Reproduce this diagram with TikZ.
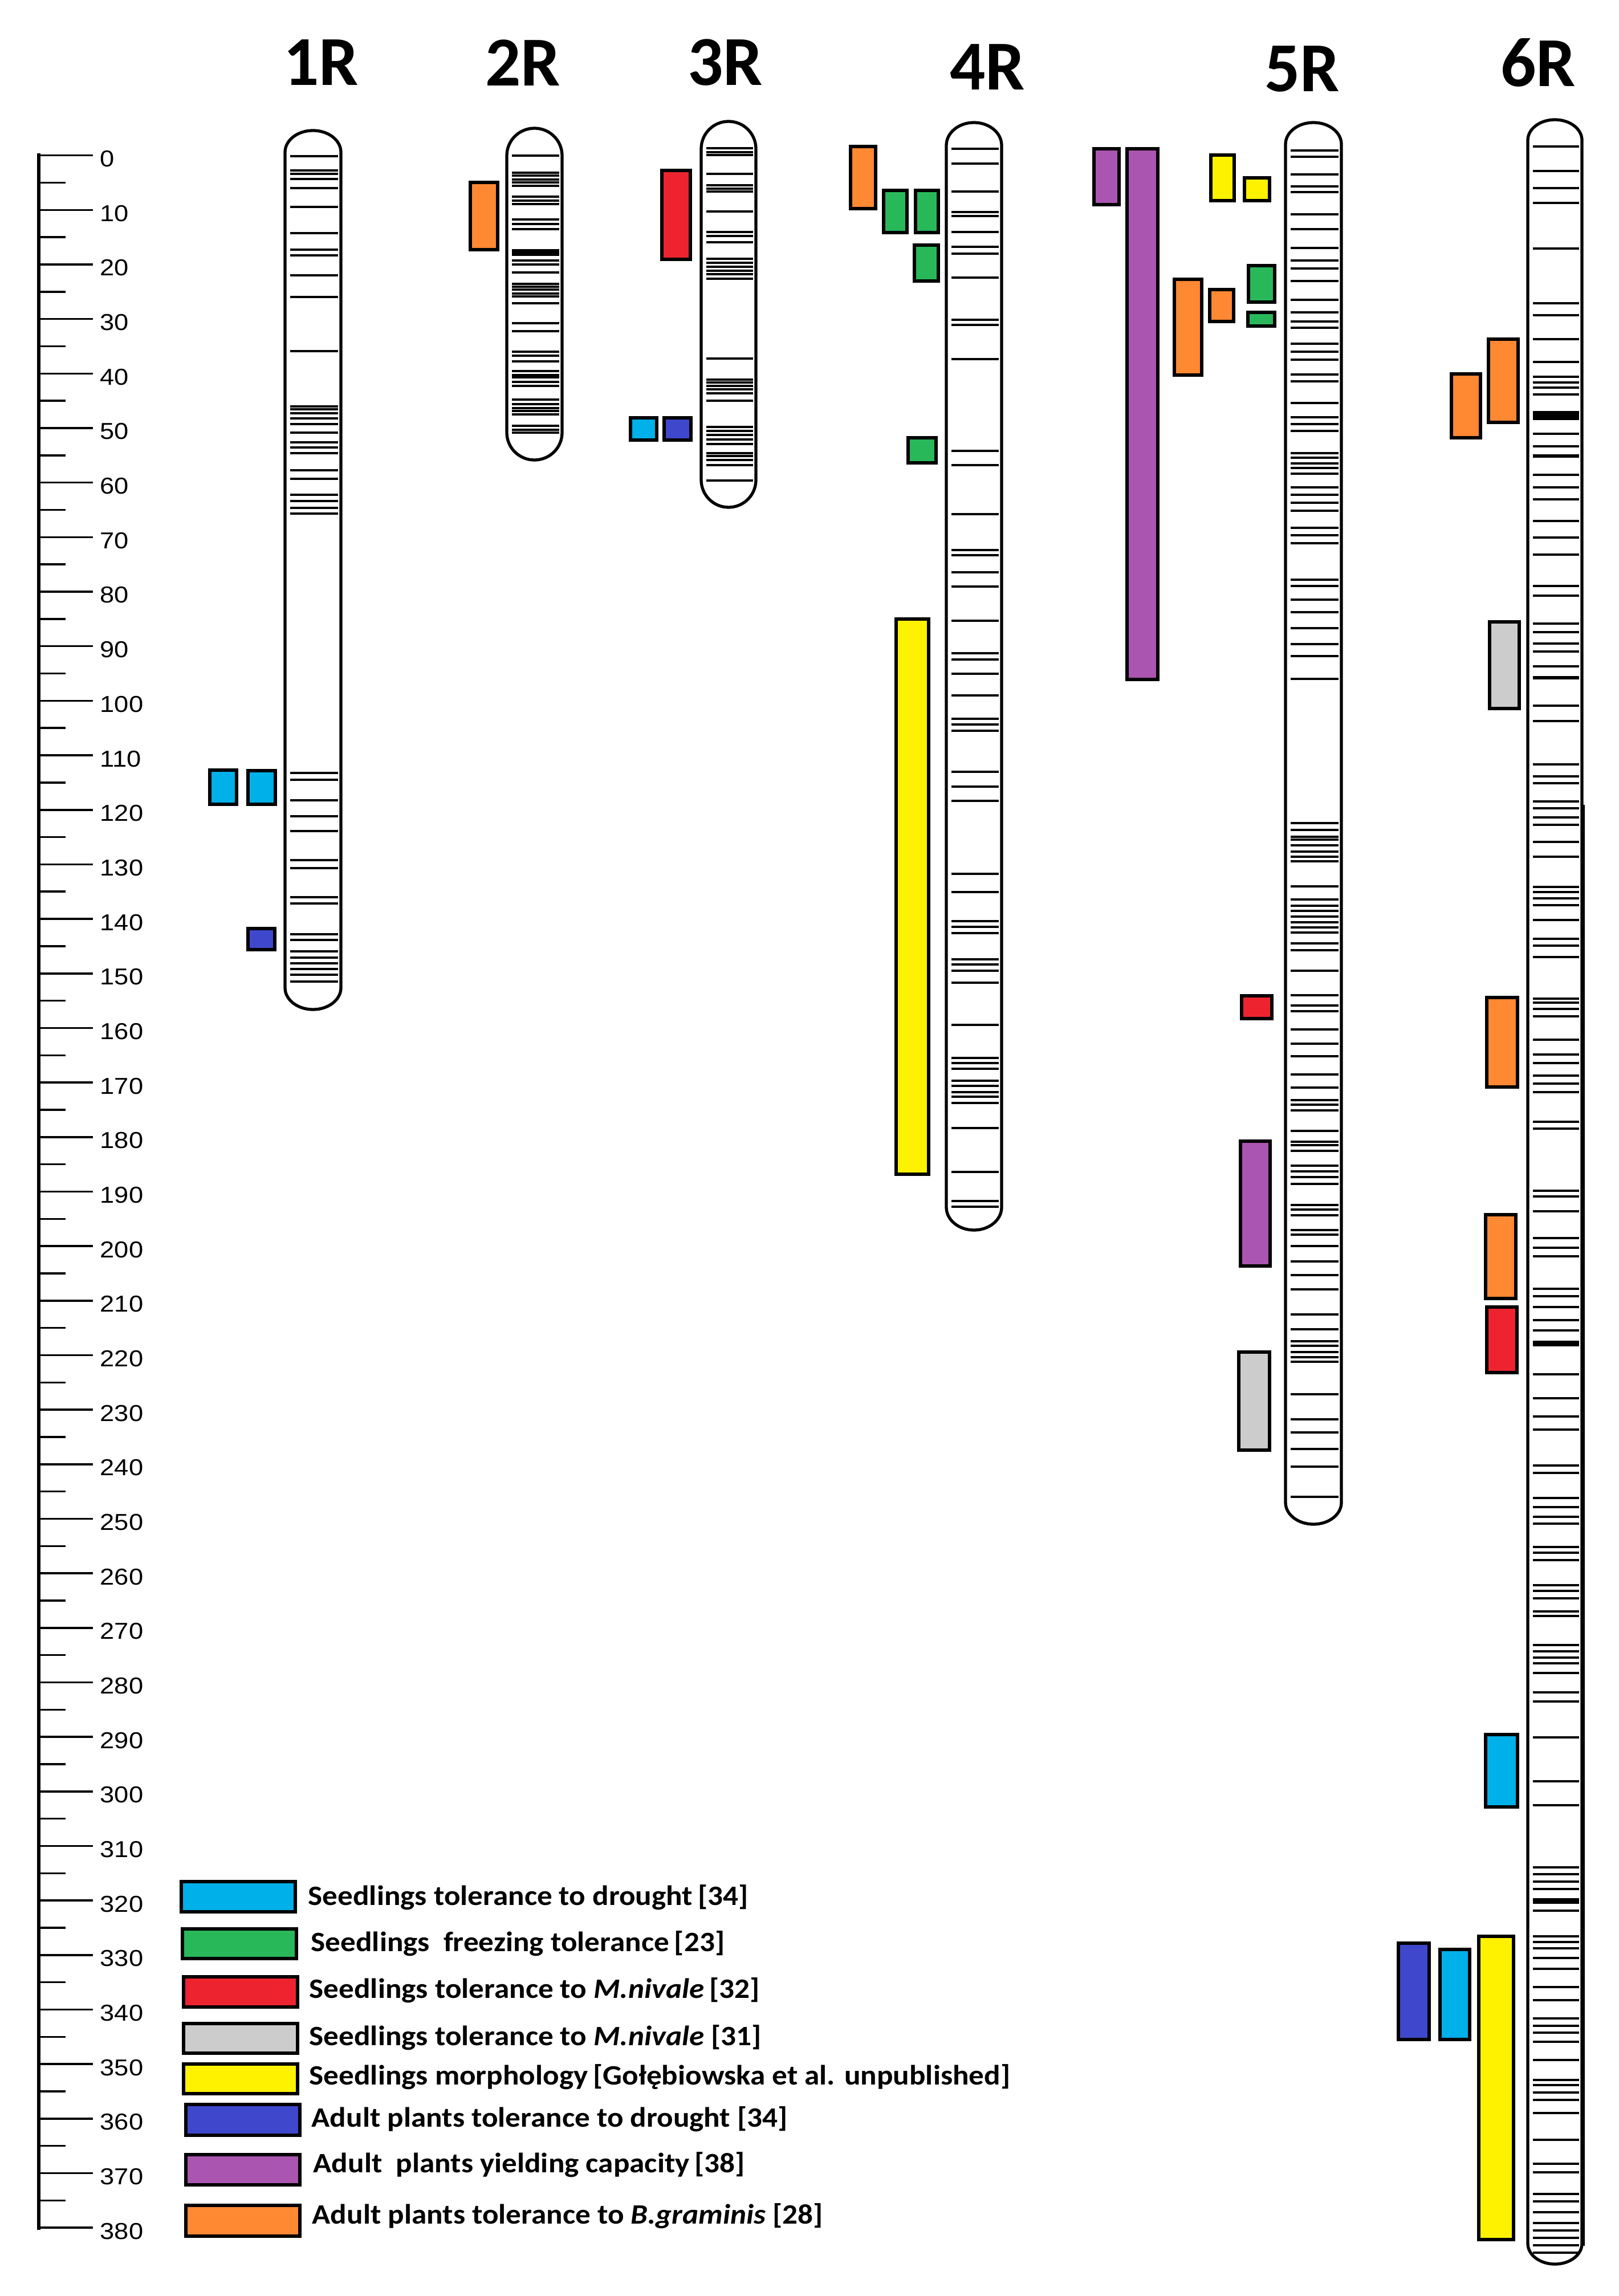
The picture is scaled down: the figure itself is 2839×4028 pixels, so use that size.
\documentclass[tikz,border=0pt]{standalone}
\usepackage{fontspec}
\setmainfont{Carlito}
\newfontfamily\numfont{Liberation Sans}
\definecolor{qcyan}{RGB}{0,176,232}
\definecolor{qgreen}{RGB}{40,184,90}
\definecolor{qred}{RGB}{237,36,48}
\definecolor{qgray}{RGB}{204,204,204}
\definecolor{qyellow}{RGB}{255,242,0}
\definecolor{qblue}{RGB}{63,72,204}
\definecolor{qpurple}{RGB}{170,85,175}
\definecolor{qorange}{RGB}{255,136,51}
\tikzset{
  chromline/.style={line width=1.5pt, draw=black},
  bandline/.style={line width=1.05pt, draw=black},
  qtlbox/.style={line width=1.6pt, draw=black},
  axisline/.style={line width=1.6pt, draw=black},
  tickline/.style={line width=1pt, draw=black},
  ticklabel/.style={anchor=west, inner sep=0pt, font=\numfont\fontsize{11.5}{13}\selectfont, xscale=1.12},
  chromtitle/.style={inner sep=0pt, font=\fontsize{35}{40}\selectfont\bfseries},
  legendtext/.style={anchor=base west, inner sep=0pt, font=\fontsize{14}{16}\selectfont\bfseries, xscale=1.08},
}
% #1 xl, #2 xr, #3 yt, #4 yb, #5 cap height, #6 band list
\newcommand{\drawchromosome}[6]{%
  \pgfmathsetmacro\cxc{(#1+#2)/2}%
  \pgfmathsetmacro\crr{(#2-#1)/2}%
  \pgfmathsetmacro\cka{0.5523*#5}%
  \pgfmathsetmacro\ckb{0.5523*\crr}%
  \foreach \b in {#6} {\draw[bandline] (#1+9,\b) -- (#2-5,\b);}
  \draw[chromline] (#1,#4-#5) -- (#1,#3+#5)
     .. controls (#1,#3+#5-\cka) and (\cxc-\ckb,#3) .. (\cxc,#3)
     .. controls (\cxc+\ckb,#3) and (#2,#3+#5-\cka) .. (#2,#3+#5)
     -- (#2,#4-#5)
     .. controls (#2,#4-#5+\cka) and (\cxc+\ckb,#4) .. (\cxc,#4)
     .. controls (\cxc-\ckb,#4) and (#1,#4-#5+\cka) .. cycle;
}
\newcommand{\qtl}[5]{\draw[qtlbox, fill=#1] (#2,#3) rectangle (#4,#5);}
\begin{document}
\begin{tikzpicture}[x=0.01cm,y=-0.01cm]
\useasboundingbox (0,0) rectangle (2839,4028);
\fill[white] (0,0) rectangle (2839,4028);

% ---------------- scale axis ----------------
\draw[axisline] (68,269) -- (68,3912);
\foreach \u in {0,10,...,380} {
  \draw[tickline] (68,{272.7+9.567*\u}) -- (163,{272.7+9.567*\u});
  \node[ticklabel] (lab\u) at (175,{278.7+9.567*\u}) {\u};
}
\foreach \u in {5,15,...,375} {
  \draw[tickline] (68,{272.7+9.567*\u}) -- (115,{272.7+9.567*\u});
}

% ---------------- titles ----------------
\node[chromtitle] (t1) at (563,110) {1R};
\node[chromtitle] (t2) at (917,110) {2R};
\node[chromtitle] (t3) at (1272,110) {3R};
\node[chromtitle] (t4) at (1732,118) {4R};
\node[chromtitle] (t5) at (2284,121) {5R};
\node[chromtitle] (t6) at (2698,110) {6R};

% ---------------- chromosomes ----------------
% 1R
\drawchromosome{500}{598}{229}{1771}{38}{274,299,305,314,330,363,409,438,448,483,521,616,713,718,725,734,744,759,776,785,795,825,840,868,879,891,901,1356,1368,1404,1432,1458,1509,1523,1574,1585,1639,1649,1669,1680,1690,1700,1710,1722}
% 2R
\drawchromosome{889}{986}{225}{807}{48}{273,303,308,315,320,326,345,352,358,385,393,402,457,464,478,498,503,508,515,520,532,567,581,617,624,634,651,658,662,670,677,701,709,716,721,727,747,754,759}
\draw[line width=3.4pt] (898,443) -- (981,443);
% 3R
\drawchromosome{1230}{1326}{213}{890}{48}{260,267,272,305,325,331,336,371,407,414,425,454,461,468,475,481,489,629,666,671,677,683,690,703,749,756,763,771,779,795,800,807,816,843}
% 4R
\drawchromosome{1660}{1757}{215}{2158}{40}{261,287,336,372,379,407,433,445,487,561,570,630,791,816,902,965,974,1004,1029,1089,1146,1157,1182,1220,1261,1271,1282,1354,1380,1405,1533,1565,1616,1626,1637,1683,1692,1703,1724,1798,1856,1865,1875,1896,1905,1916,1924,1935,1979,2056,2107,2117}
% 5R
\drawchromosome{2255}{2353}{215}{2674}{38}{264,275,306,327,337,376,402,435,457,471,493,526,548,564,575,603,617,631,657,669,707,732,744,756,795,803,813,821,831,855,868,882,896,926,939,953,1017,1028,1052,1074,1102,1130,1151,1191,1444,1456,1468,1473,1483,1494,1503,1511,1555,1578,1589,1598,1608,1618,1627,1636,1655,1667,1703,1746,1764,1774,1806,1831,1853,1885,1908,1930,1938,1948,1984,2003,2009,2019,2045,2055,2065,2077,2114,2122,2132,2158,2166,2186,2213,2237,2262,2306,2332,2353,2361,2372,2381,2389,2446,2490,2513,2542,2573,2626}
% 6R
\drawchromosome{2680}{2775}{210}{3972}{36}{257,300,330,356,436,532,553,595,635,661,671,680,692,761,783,833,855,876,914,943,973,1028,1045,1094,1109,1129,1143,1169,1238,1265,1341,1362,1374,1406,1418,1434,1447,1477,1503,1556,1565,1576,1588,1614,1647,1659,1679,1752,1759,1770,1783,1824,1850,1865,1887,1901,1916,1968,1980,2089,2099,2125,2172,2189,2204,2261,2274,2293,2316,2334,2411,2453,2485,2508,2571,2584,2628,2644,2661,2673,2714,2724,2737,2781,2791,2804,2827,2835,2886,2897,2908,2918,2935,2969,2985,3048,3125,3167,3276,3288,3301,3314,3352,3397,3407,3418,3435,3454,3486,3509,3541,3554,3566,3582,3614,3649,3658,3671,3684,3707,3754,3796,3811,3849,3862,3881,3900,3913,3926,3939,3952}
\draw[line width=4.5pt] (2689,729) -- (2770,729);
\draw[line width=1.7pt] (2689,800) -- (2770,800);
\draw[line width=1.7pt] (2689,1189) -- (2770,1189);
\draw[line width=2.8pt] (2689,2357) -- (2770,2357);
\draw[line width=2.8pt] (2689,3335) -- (2770,3335);
\draw[line width=0.9pt] (2778,1412) -- (2778,3940);

% ---------------- QTL boxes ----------------
% 1R
\qtl{qcyan}{368}{1351}{415}{1411}
\qtl{qcyan}{435}{1352}{483}{1411}
\qtl{qblue}{435}{1629}{482}{1666}
% 2R
\qtl{qorange}{825}{320}{873}{438}
% 3R
\qtl{qred}{1161}{299}{1211}{455}
\qtl{qcyan}{1106}{733}{1152}{772}
\qtl{qblue}{1165}{733}{1212}{772}
% 4R
\qtl{qorange}{1492}{257}{1536}{366}
\qtl{qgreen}{1550}{334}{1591}{408}
\qtl{qgreen}{1606}{334}{1646}{408}
\qtl{qgreen}{1604}{430}{1646}{493}
\qtl{qgreen}{1593}{768}{1642}{812}
\qtl{qyellow}{1572}{1086}{1629}{2060}
% 5R
\qtl{qpurple}{1919}{261}{1963}{359}
\qtl{qpurple}{1977}{261}{2031}{1192}
\qtl{qyellow}{2124}{272}{2165}{352}
\qtl{qyellow}{2183}{312}{2227}{352}
\qtl{qorange}{2060}{490}{2108}{658}
\qtl{qorange}{2122}{508}{2164}{564}
\qtl{qgreen}{2190}{466}{2236}{530}
\qtl{qgreen}{2189}{548}{2236}{572}
\qtl{qred}{2178}{1747}{2231}{1787}
\qtl{qpurple}{2176}{2002}{2228}{2221}
\qtl{qgray}{2173}{2372}{2227}{2544}
% 6R
\qtl{qorange}{2546}{656}{2597}{768}
\qtl{qorange}{2611}{595}{2663}{741}
\qtl{qgray}{2613}{1091}{2665}{1243}
\qtl{qorange}{2608}{1750}{2662}{1907}
\qtl{qorange}{2606}{2131}{2659}{2278}
\qtl{qred}{2608}{2293}{2661}{2408}
\qtl{qcyan}{2606}{3043}{2662}{3170}
\qtl{qblue}{2453}{3409}{2507}{3578}
\qtl{qcyan}{2526}{3420}{2578}{3578}
\qtl{qyellow}{2594}{3397}{2655}{3929}

% ---------------- legend ----------------
\qtl{qcyan}{318}{3301}{518}{3354}
\node[legendtext] (l1) at (540,3342) {Seedlings tolerance to drought\,[34]};
\qtl{qgreen}{320}{3384}{520}{3436}
\node[legendtext] (l2) at (545,3423) {Seedlings\ \ freezing tolerance\,[23]};
\qtl{qred}{322}{3468}{522}{3521}
\node[legendtext] (l3) at (542,3505) {Seedlings tolerance to \textit{M.nivale}\,[32]};
\qtl{qgray}{322}{3550}{522}{3602}
\node[legendtext] (l4) at (542,3588) {Seedlings tolerance to \textit{M.nivale} [31]};
\qtl{qyellow}{322}{3621}{522}{3673}
\node[legendtext] (l5) at (542,3657) {Seedlings morphology\,[Gołębiowska et al. unpublished]};
\qtl{qblue}{326}{3692}{526}{3746}
\node[legendtext] (l6) at (546,3731) {Adult plants tolerance to drought [34]};
\qtl{qpurple}{326}{3780}{526}{3833}
\node[legendtext] (l7) at (549,3811) {Adult\ \ plants yielding capacity\,[38]};
\qtl{qorange}{326}{3869}{526}{3923}
\node[legendtext] (l8) at (547,3901) {Adult plants tolerance to \textit{B.graminis} [28]};
\end{tikzpicture}
\end{document}
